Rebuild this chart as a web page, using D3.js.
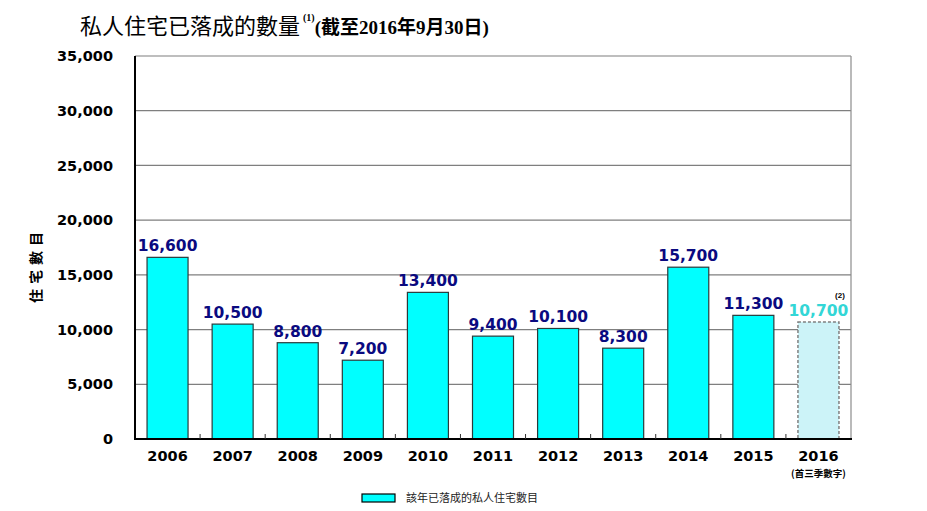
<!DOCTYPE html>
<html><head><meta charset="utf-8">
<script src="https://cdn.jsdelivr.net/npm/d3@7"></script>
<style>body{margin:0;background:#fff;}</style>
</head><body>
<svg id="c" width="927" height="511"></svg>
<script>
const years = ["2006","2007","2008","2009","2010","2011","2012","2013","2014","2015","2016"];
const completions = [16600,10500,8800,7200,13400,9400,10100,8300,15700,11300,10700];
const yTicks = [0,5000,10000,15000,20000,25000,30000,35000];
const titleMain = "私人住宅已落成的數量";
const titleNote = "(1)";
const titleDate = "(截至2016年9月30日)";
const yLabel = "住宅數目";
const partialNote = "(首三季數字)";
const partialMark = "(2)";
const legendLabel = "該年已落成的私人住宅數目";

const svg = d3.select("#c");
const m = {l:135, r:851, t:56, b:439};
const x = d3.scaleBand().domain(years).range([m.l, m.r]).paddingInner(0.37).paddingOuter(0.185);
const xb = d3.scaleBand().domain(years).range([m.l, m.r]);
const y = d3.scaleLinear().domain([0,35000]).range([m.b, m.t]);
const fmt = d3.format(",");
const wide = "'DejaVu Sans', Verdana, sans-serif";

// gridlines
svg.append("g").selectAll("line").data(yTicks.filter(d=>d>0)).join("line")
  .attr("x1", m.l).attr("x2", m.r).attr("y1", d=>y(d)).attr("y2", d=>y(d))
  .attr("stroke", "#7f7f7f").attr("stroke-width", 1.2);
// right border
svg.append("line").attr("x1", m.r).attr("x2", m.r).attr("y1", m.t).attr("y2", m.b)
  .attr("stroke", "#8c8c8c").attr("stroke-width", 1.2);

// y axis
const ya = d3.axisLeft(y).tickValues(yTicks).tickFormat(fmt).tickSize(0).tickPadding(22);
const gy = svg.append("g").attr("transform", `translate(${m.l},0)`).call(ya);
gy.select(".domain").remove();
gy.selectAll("text").attr("font-family", wide).attr("font-weight", "bold").attr("font-size", 14.5).attr("fill", "#000");
svg.append("line").attr("x1", m.l).attr("x2", m.l).attr("y1", m.t).attr("y2", m.b+1)
  .attr("stroke", "#000").attr("stroke-width", 2);

// bars
const last = years.length - 1;
svg.append("g").selectAll("rect").data(years).join("rect")
  .attr("x", d=>x(d)).attr("width", x.bandwidth())
  .attr("y", (d,i)=>y(completions[i])).attr("height", (d,i)=>m.b - y(completions[i]))
  .attr("fill", (d,i)=> i===last ? "#ccf3f8" : "#00ffff")
  .attr("stroke", (d,i)=> i===last ? "#808080" : "#2a3a3a")
  .attr("stroke-width", (d,i)=> i===last ? 1.5 : 1.2)
  .attr("stroke-dasharray", (d,i)=> i===last ? "3,2" : null);

// x axis
svg.append("line").attr("x1", m.l-1).attr("x2", m.r+1).attr("y1", m.b).attr("y2", m.b)
  .attr("stroke", "#000").attr("stroke-width", 2);
const xa = d3.axisBottom(xb).tickSize(0).tickPadding(12);
const gx = svg.append("g").attr("transform", `translate(0,${m.b})`).call(xa);
gx.select(".domain").remove();
gx.selectAll("text").attr("font-family", wide).attr("font-weight", "bold").attr("font-size", 14.5).attr("fill", "#000");
// small inner ticks at band boundaries
svg.append("g").selectAll("line").data(years.slice(1)).join("line")
  .attr("x1", d=>xb(d)).attr("x2", d=>xb(d)).attr("y1", m.b).attr("y2", m.b-5)
  .attr("stroke", "#333").attr("stroke-width", 1);

svg.append("text").attr("x", xb(years[last]) + xb.bandwidth()/2).attr("y", 477)
  .attr("text-anchor", "middle").attr("font-family", "'Noto Sans CJK TC'").attr("font-weight", "bold")
  .attr("font-size", 9.5).text(partialNote);

// value labels
svg.append("g").selectAll("text").data(years).join("text")
  .attr("x", d=>x(d) + x.bandwidth()/2).attr("y", (d,i)=>y(completions[i]) - 6)
  .attr("text-anchor", "middle").attr("font-family", wide).attr("font-weight", "bold")
  .attr("font-size", 15.5).attr("fill", (d,i)=> i===last ? "#33d6d6" : "#0a0a80")
  .text((d,i)=>fmt(completions[i]));
svg.append("text").attr("x", x(years[last]) + x.bandwidth() + 1).attr("y", y(completions[last]) - 24)
  .attr("text-anchor", "middle").attr("font-family", "'Liberation Sans', Arial").attr("font-weight", "bold")
  .attr("font-size", 8).text(partialMark);

// y label
svg.append("text").attr("transform", `translate(41,265) rotate(-90)`)
  .attr("text-anchor", "middle").attr("font-family", "'Noto Sans CJK TC'").attr("font-size", 14)
  .attr("font-weight", "bold").attr("letter-spacing", 5).attr("fill", "#000").text(yLabel);

// title
const t = svg.append("text").attr("x", 80).attr("y", 34).attr("fill", "#000");
t.append("tspan").attr("font-family", "'Noto Sans CJK TC'").attr("font-size", 22).text(titleMain);
t.append("tspan").attr("font-family", "'Liberation Serif'").attr("font-weight", "bold").attr("font-size", 10)
  .attr("dx", 3).attr("dy", -13).text(titleNote);
t.append("tspan").attr("font-family", "'Liberation Serif','Noto Sans CJK TC'").attr("font-weight", "bold").attr("font-size", 19)
  .attr("dx", 0).attr("dy", 13).text(titleDate);

// legend
svg.append("rect").attr("x", 362).attr("y", 494).attr("width", 33).attr("height", 8)
  .attr("fill", "#00ffff").attr("stroke", "#000").attr("stroke-width", 1.2);
svg.append("text").attr("x", 406).attr("y", 502).attr("font-family", "'Noto Sans CJK TC'")
  .attr("font-size", 11).attr("fill", "#222").text(legendLabel);
</script>
</body></html>
